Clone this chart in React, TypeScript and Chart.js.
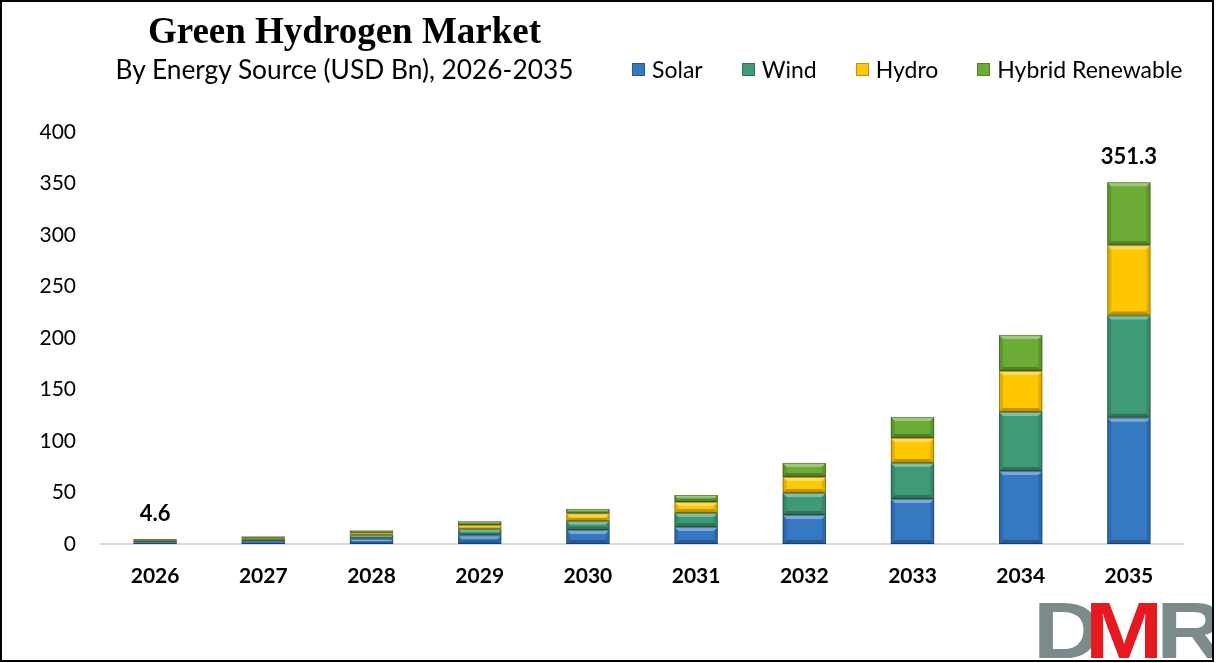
import React, { useEffect, useRef } from "react";
import { Chart, registerables } from "chart.js";

Chart.register(...registerables);

const categories = ["2026", "2027", "2028", "2029", "2030", "2031", "2032", "2033", "2034", "2035"];
const solar = [1.8, 2.8, 5.0, 8.3, 13.6, 16.5, 28.2, 43.7, 70.9, 122.6];
const wind = [1.3, 2.0, 3.6, 6.0, 8.7, 13.6, 21.4, 35.0, 57.3, 99.2];
const hydro = [0.8, 1.3, 2.3, 4.0, 7.3, 10.7, 15.5, 24.3, 39.8, 68.2];
const hybrid = [0.7, 1.2, 2.1, 3.7, 4.4, 6.8, 13.6, 20.4, 35.0, 61.3];
const totalLabels = ["4.6", "", "", "", "", "", "", "", "", "351.3"];
const seriesNames = ["Solar", "Wind", "Hydro", "Hybrid Renewable"];
const seriesColors = ["#3579C3", "#3E9B75", "#FFC803", "#6CAB35"];
const yMin = 0;
const yMax = 400;
const yStep = 50;

const bevelPlugin = {
  id: "bevel",
  afterDatasetsDraw(chart: any) {
    const ctx = chart.ctx;
    chart.data.datasets.forEach((_: any, di: number) => {
      const meta = chart.getDatasetMeta(di);
      meta.data.forEach((el: any) => {
        const p = el.getProps(["x", "y", "base", "width"], true);
        const l = p.x - p.width / 2;
        const r = p.x + p.width / 2;
        const t = Math.min(p.y, p.base);
        const b = Math.max(p.y, p.base);
        const h = b - t;
        if (h <= 0) return;
        const bv = Math.min(4, h / 2.5, p.width / 2);
        ctx.save();
        ctx.fillStyle = "rgba(255,255,255,0.35)";
        ctx.beginPath();
        ctx.moveTo(l, t);
        ctx.lineTo(r, t);
        ctx.lineTo(r - bv, t + bv);
        ctx.lineTo(l + bv, t + bv);
        ctx.closePath();
        ctx.fill();
        ctx.fillStyle = "rgba(0,0,0,0.12)";
        ctx.beginPath();
        ctx.moveTo(l, t);
        ctx.lineTo(l + bv, t + bv);
        ctx.lineTo(l + bv, b - bv);
        ctx.lineTo(l, b);
        ctx.closePath();
        ctx.fill();
        ctx.beginPath();
        ctx.moveTo(r, t);
        ctx.lineTo(r - bv, t + bv);
        ctx.lineTo(r - bv, b - bv);
        ctx.lineTo(r, b);
        ctx.closePath();
        ctx.fill();
        ctx.fillStyle = "rgba(0,0,0,0.25)";
        ctx.beginPath();
        ctx.moveTo(l, b);
        ctx.lineTo(r, b);
        ctx.lineTo(r - bv, b - bv);
        ctx.lineTo(l + bv, b - bv);
        ctx.closePath();
        ctx.fill();
        ctx.strokeStyle = "rgba(0,0,0,0.3)";
        ctx.lineWidth = 1;
        ctx.strokeRect(l + 0.5, t + 0.5, p.width - 1, h - 1);
        ctx.restore();
      });
    });
  },
};

const totalsPlugin = {
  id: "totals",
  afterDatasetsDraw(chart: any) {
    const ctx = chart.ctx;
    const meta = chart.getDatasetMeta(chart.data.datasets.length - 1);
    ctx.save();
    ctx.font = "bold 22px Lato";
    ctx.fillStyle = "#000";
    ctx.textAlign = "center";
    ctx.textBaseline = "alphabetic";
    meta.data.forEach((el: any, i: number) => {
      if (!totalLabels[i]) return;
      const p = el.getProps(["x", "y"], true);
      ctx.fillText(totalLabels[i], p.x, p.y - 18);
    });
    ctx.restore();
  },
};

export default function App() {
  const ref = useRef<HTMLCanvasElement>(null);

  useEffect(() => {
    if (!ref.current) return;
    const series = [solar, wind, hydro, hybrid];
    const chart = new Chart(ref.current, {
      type: "bar",
      data: {
        labels: categories,
        datasets: series.map((d, i) => ({
          label: seriesNames[i],
          data: d,
          backgroundColor: seriesColors[i],
          borderWidth: 0,
          categoryPercentage: 1,
          barPercentage: 0.4,
        })),
      },
      options: {
        responsive: false,
        animation: false,
        layout: { padding: { top: 130, right: 29, bottom: 0, left: 0 } },
        plugins: {
          legend: { display: false },
          tooltip: { enabled: false },
          title: { display: false },
        },
        scales: {
          x: {
            stacked: true,
            grid: { display: false, drawTicks: false },
            border: { display: true, color: "#d9d9d9", width: 2 },
            ticks: {
              font: { family: "Lato", size: 21, weight: "bold" },
              color: "#000",
              padding: 20,
            },
            afterFit: (s: any) => {
              s.height = 116;
            },
          },
          y: {
            stacked: true,
            min: yMin,
            max: yMax,
            ticks: {
              stepSize: yStep,
              font: { family: "Lato", size: 21 },
              color: "#000",
              padding: 25,
            },
            grid: { display: false, drawTicks: false },
            border: { display: false },
            afterFit: (s: any) => {
              s.width = 99;
            },
          },
        },
      } as any,
      plugins: [bevelPlugin, totalsPlugin],
    });
    return () => chart.destroy();
  }, []);

  return (
    <div
      style={{
        position: "absolute",
        left: 0,
        top: 0,
        width: 1214,
        height: 662,
        boxSizing: "border-box",
        border: "2px solid #000",
        background: "#fff",
        overflow: "hidden",
      }}
    >
      <canvas ref={ref} width={1210} height={658} style={{ position: "absolute", left: 0, top: 0 }} />
      <div
        style={{
          position: "absolute",
          left: 0,
          top: 10,
          width: 685,
          textAlign: "center",
          fontFamily: "'Liberation Serif', serif",
          fontWeight: "bold",
          fontSize: 37,
          lineHeight: 1,
          color: "#000",
          whiteSpace: "nowrap",
        }}
      >
        Green Hydrogen Market
      </div>
      <div
        style={{
          position: "absolute",
          left: 0,
          top: 54,
          width: 685,
          textAlign: "center",
          fontFamily: "Lato, sans-serif",
          fontSize: 26.3,
          lineHeight: 1,
          color: "#000",
          whiteSpace: "nowrap",
        }}
      >
        By Energy Source (USD Bn), 2026-2035
      </div>
      <div
        style={{
          position: "absolute",
          left: 630,
          top: 55,
          display: "flex",
          alignItems: "center",
          gap: 39,
          fontFamily: "Lato, sans-serif",
          fontSize: 23,
          lineHeight: "24px",
          color: "#000",
          whiteSpace: "nowrap",
        }}
      >
        {seriesNames.map((n, i) => (
          <div key={n} style={{ display: "flex", alignItems: "center" }}>
            <span
              style={{
                display: "inline-block",
                width: 13,
                height: 13,
                background: seriesColors[i],
                border: "1px solid rgba(0,0,0,0.25)",
                boxSizing: "border-box",
                marginRight: 7,
              }}
            />
            <span>{n}</span>
          </div>
        ))}
      </div>
      <div
        style={{
          position: "absolute",
          left: 1031,
          top: 589,
          fontFamily: "'Liberation Sans', sans-serif",
          fontWeight: "bold",
          fontSize: 80,
          lineHeight: 1,
          whiteSpace: "nowrap",
          transform: "scaleX(1.18)",
          transformOrigin: "left top",
        }}
      >
        <span style={{ color: "#7B8A8A" }}>D</span>
        <span style={{ color: "#E5191F", marginLeft: -14 }}>M</span>
        <span style={{ color: "#7B8A8A", marginLeft: -6 }}>R</span>
      </div>
    </div>
  );
}
